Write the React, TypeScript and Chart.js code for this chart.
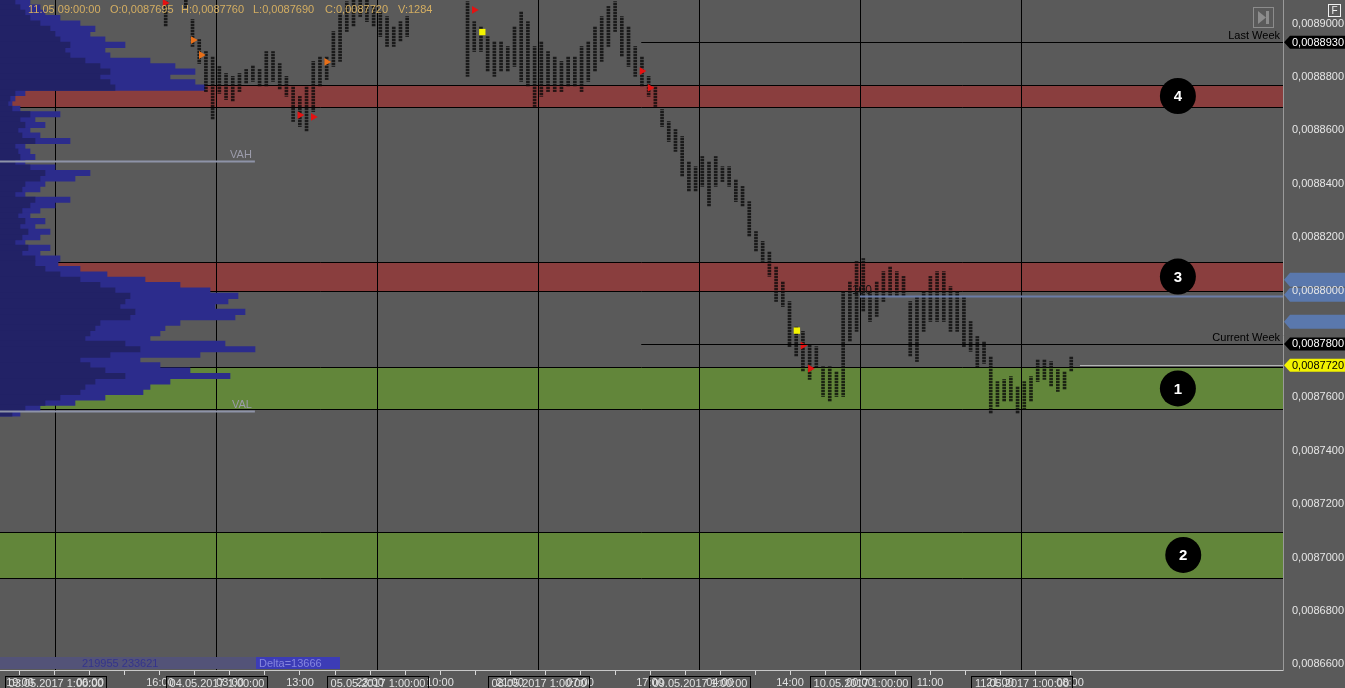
import React, { useEffect, useRef } from "react";
import { Chart, registerables } from "chart.js";

Chart.register(...registerables);

const FONT = '"Liberation Sans", Arial, sans-serif';
const BG = "#5a5a5a";

// ---- axis ranges (price in units of 1e-7, time in trading hours from 03.05 1:00) ----
const X_MIN = -8.2;
const X_MAX = 183.07;
const Y_MIN = 86579;
const Y_MAX = 89088;
const Y_TICK_VALUES = [86600, 86800, 87000, 87200, 87400, 87600, 87800, 88000, 88200, 88400, 88600, 88800, 89000];

// ---- x axis ticks ----
const X_TICK_START = -5.22;
const X_TICK_STEP = 5.218;
const X_TICK_LABELS = [
  "19:00", "", "06:00", "", "16:00", "", "03:00", "", "13:00", "", "23:00", "",
  "10:00", "", "21:00", "", "07:00", "", "17:00", "", "04:00", "", "14:00", "",
  "00:00", "", "11:00", "", "21:00", "", "08:00",
];

// ---- day separators ----
const DAY_HOURS = [0, 24, 48, 72, 96, 120, 144];
const DAY_LABELS = [
  "03.05.2017 1:00:00", "04.05.2017 1:00:00", "05.05.2017 1:00:00", "08.05.2017 1:00:00",
  "09.05.2017 1:00:00", "10.05.2017 1:00:00", "11.05.2017 1:00:00",
];

// ---- price bars (hourly high / low) ----
const BAR_START_HOUR = 16.5;
const BAR_HIGH = [
  89082, 89139, 89157, 89101, 89015, 88940, 88895, 88876, 88839, 88813,
  88802, 88813, 88828, 88843, 88828, 88895, 88895, 88850, 88802, 88764,
  88727, 88764, 88858, 88876, 88876, 88970, 89037, 89082, 89101, 89120,
  89101, 89064, 89045, 89026, 88989, 89007, 89026, 89160, 89180, 89200,
  89210, 89200, 89180, 89160, 89150, 89082, 89007, 88989, 88951, 88933,
  88933, 88914, 88989, 89045, 89007, 88914, 88933, 88895, 88876, 88858,
  88876, 88876, 88914, 88933, 88989, 89026, 89064, 89082, 89026, 88989,
  88914, 88876, 88802, 88764, 88678, 88633, 88603, 88577, 88483, 88464,
  88502, 88483, 88502, 88464, 88464, 88416, 88390, 88333, 88221, 88184,
  88146, 88090, 88034, 87959, 87865, 87847, 87798, 87790, 87715, 87715,
  87697, 87996, 88034, 88109, 88120, 87996, 88034, 88071, 88090, 88071,
  88053, 87959, 87978, 87996, 88053, 88071, 88071, 88015, 87996, 87978,
  87884, 87828, 87809, 87753, 87659, 87667, 87678, 87641, 87659, 87678,
  87742, 87742, 87734, 87704, 87697, 87753,
];
const BAR_LOW = [
  88989, 89090, 89095, 89060, 88914, 88850, 88745, 88640, 88738, 88715,
  88708, 88745, 88775, 88783, 88764, 88764, 88783, 88753, 88727, 88633,
  88614, 88596, 88670, 88764, 88790, 88839, 88858, 88970, 88989, 89026,
  89007, 88989, 88951, 88914, 88914, 88933, 88951, 89095, 89110, 89120,
  89130, 89120, 89110, 89100, 89095, 88802, 88895, 88895, 88820, 88802,
  88820, 88820, 88839, 88783, 88764, 88689, 88727, 88745, 88745, 88745,
  88764, 88764, 88745, 88783, 88820, 88858, 88914, 88970, 88876, 88839,
  88802, 88764, 88727, 88689, 88614, 88558, 88521, 88427, 88371, 88371,
  88390, 88315, 88390, 88408, 88390, 88333, 88315, 88202, 88146, 88109,
  88053, 87959, 87940, 87790, 87753, 87697, 87667, 87715, 87603, 87584,
  87603, 87603, 87809, 87847, 87921, 87884, 87903, 87959, 87978, 87978,
  87978, 87753, 87734, 87847, 87884, 87884, 87884, 87847, 87847, 87790,
  87772, 87715, 87727, 87539, 87566, 87584, 87584, 87539, 87554, 87584,
  87659, 87667, 87641, 87622, 87629, 87697,
];

// ---- signal markers ----
const MARK_HOURS = [16.4, 20.6, 21.8, 36.5, 38.5, 40.5, 62.5, 63.7, 87.5, 88.7, 110.6, 111.5, 112.6];
const MARK_PRICES = [89077, 88938, 88882, 88657, 88650, 88856, 89051, 88968, 88822, 88759, 87850, 87794, 87708];
const MARK_KINDS = ["red", "orange", "orange", "red", "red", "orange", "red", "yellow", "red", "red", "yellow", "red", "red"];

// ---- volume profile (rows of 0,0000020 from the top level) ----
const PROFILE_TOP = 89080;
const PROFILE_STEP = 20;
const PROFILE_VOLUME = [
  600, 800, 900, 1200, 1600, 1900, 1800, 2100, 2500, 2100,
  2200, 3000, 3500, 3900, 3400, 3900, 4100, 500, 300, 240,
  400, 1200, 700, 900, 600, 800, 1400, 500, 600, 700,
  500, 1100, 1800, 1500, 900, 800, 500, 1400, 1100, 800,
  600, 900, 700, 1000, 800, 500, 1000, 800, 1200, 1160,
  1600, 2140, 2900, 3600, 4200, 4760, 4560, 4300, 4900, 4700,
  3600, 3300, 3200, 3000, 4500, 5100, 4000, 2800, 3200, 3800,
  4600, 3400, 3000, 2860, 2100, 1500, 800, 400,
];
const PROFILE_VOLUME_INNER = [
  300, 400, 500, 600, 800, 1000, 1100, 1200, 1400, 1300,
  1400, 1700, 2000, 2200, 2000, 2200, 2300, 300, 200, 160,
  240, 600, 400, 500, 360, 440, 700, 300, 360, 400,
  300, 600, 900, 800, 500, 440, 300, 700, 600, 440,
  360, 500, 400, 560, 440, 300, 560, 440, 700, 700,
  900, 1200, 1600, 2000, 2300, 2600, 2500, 2400, 2700, 2600,
  2000, 1900, 1800, 1700, 2500, 2800, 2200, 1600, 1800, 2100,
  2500, 1900, 1700, 1600, 1200, 900, 500, 240,
];
const PROFILE_AXIS_MAX = 25660;

// ---- zones ----
const ZONE_NAMES = ["4", "3", "1", "2"];
const ZONE_HIGH = [88770, 88105, 87712, 87096];
const ZONE_LOW = [88687, 88000, 87555, 86924];
const ZONE_KINDS = ["resistance", "resistance", "support", "support"];
const ZONE_LABEL_HOURS = [167.4, 167.4, 167.4, 168.2];

// ---- horizontal levels ----
const LEVEL_NAMES = ["VAH", "VAL", "Last Week", "Current Week", "POC", "Last"];
const LEVEL_VALUES = [88485, 87549, 88930, 87800, 87980, 87720];
const LEVEL_FROM = [X_MIN, X_MIN, 87.4, 87.4, 120, 152.8];
const LEVEL_TO: (number | null)[] = [29.8, 29.8, null, null, null, null];
const LEVEL_KINDS = ["va", "va", "week", "week", "poc", "last"];

// ---- axis tags ----
const TAG_VALUES = [88930, 87800, 87720];
const TAG_KINDS = ["dark", "dark", "last"];
const BLUE_TAG_VALUES = [88040, 87984, 87883];

// ---- texts ----
const HEADER_ITEMS = ["11.05 09:00:00", "O:0,0087695", "H:0,0087760", "L:0,0087690", "C:0,0087720", "V:1284"];
const VOLUME_TEXT = "219955 233621";
const DELTA_TEXT = "Delta=13666";
const ROUND_TEXT = "100";
const ROUND_HOUR = 120.3;
const ROUND_VALUE = 88000;

const fmtPrice = (v: number) => (v / 1e7).toFixed(7).replace(".", ",");

const drawTag = (ctx: CanvasRenderingContext2D, tipX: number, yc: number, right: number, half: number, fill: string, text: string | null, textColor: string) => {
  ctx.beginPath();
  ctx.moveTo(tipX, yc);
  ctx.lineTo(tipX + 6, yc - half);
  ctx.lineTo(right, yc - half);
  ctx.lineTo(right, yc + half);
  ctx.lineTo(tipX + 6, yc + half);
  ctx.closePath();
  ctx.fillStyle = fill;
  ctx.fill();
  if (text) {
    ctx.fillStyle = textColor;
    ctx.font = `11px ${FONT}`;
    ctx.textAlign = "left";
    ctx.textBaseline = "middle";
    ctx.fillText(text, tipX + 8, yc + 0.5);
  }
};

const overlayPlugin = {
  id: "overlay",
  beforeDraw(chart: any) {
    const { ctx, width, height, chartArea: a } = chart;
    const y = chart.scales.y;
    ctx.save();
    ctx.fillStyle = BG;
    ctx.fillRect(0, 0, width, height);
    BLUE_TAG_VALUES.forEach((v) => {
      drawTag(ctx, a.right + 1, y.getPixelForValue(v), width, 7, "#5a78ad", null, "#fff");
    });
    ctx.restore();
  },
  beforeDatasetsDraw(chart: any) {
    const { ctx, chartArea: a } = chart;
    const x = chart.scales.x;
    const y = chart.scales.y;
    ctx.save();
    ZONE_HIGH.forEach((hi, i) => {
      const top = Math.round(y.getPixelForValue(hi));
      const bot = Math.round(y.getPixelForValue(ZONE_LOW[i]));
      ctx.fillStyle = ZONE_KINDS[i] === "resistance" ? "#8a3e3e" : "#62863a";
      ctx.fillRect(a.left, top, a.right - a.left, bot - top);
      ctx.strokeStyle = "#000";
      ctx.lineWidth = 1;
      ctx.beginPath();
      ctx.moveTo(a.left, top + 0.5);
      ctx.lineTo(a.right, top + 0.5);
      ctx.moveTo(a.left, bot + 0.5);
      ctx.lineTo(a.right, bot + 0.5);
      ctx.stroke();
    });
    DAY_HOURS.forEach((h) => {
      const px = Math.round(x.getPixelForValue(h)) + 0.5;
      ctx.strokeStyle = "#000";
      ctx.lineWidth = 1;
      ctx.beginPath();
      ctx.moveTo(px, a.top);
      ctx.lineTo(px, a.bottom);
      ctx.stroke();
    });
    ctx.restore();
  },
  afterDatasetsDraw(chart: any) {
    const { ctx, chartArea: a } = chart;
    const x = chart.scales.x;
    const y = chart.scales.y;
    ctx.save();
    const styles: Record<string, any> = {
      va: { color: "#8e93a8", width: 2, text: "#9c9cab", label: true },
      week: { color: "#000", width: 1, text: "#000", label: true },
      poc: { color: "#6a7ca6", width: 2, text: "", label: false },
      last: { color: "#b4b4b4", width: 1, text: "", label: false },
    };
    LEVEL_VALUES.forEach((v, i) => {
      const st = styles[LEVEL_KINDS[i]];
      const py = Math.round(y.getPixelForValue(v)) + 0.5;
      const x0 = Math.max(a.left, x.getPixelForValue(LEVEL_FROM[i]));
      const to = LEVEL_TO[i];
      const x1 = to == null ? a.right : x.getPixelForValue(to);
      ctx.strokeStyle = st.color;
      ctx.lineWidth = st.width;
      ctx.beginPath();
      ctx.moveTo(x0, py);
      ctx.lineTo(x1, py);
      ctx.stroke();
      if (st.label) {
        ctx.font = `11px ${FONT}`;
        ctx.fillStyle = st.text;
        ctx.textAlign = "right";
        ctx.textBaseline = "alphabetic";
        ctx.fillText(LEVEL_NAMES[i], x1 - 3, py - 4);
      }
    });
    // zone number badges
    ZONE_NAMES.forEach((name, i) => {
      const cx = x.getPixelForValue(ZONE_LABEL_HOURS[i]);
      const cy = (y.getPixelForValue(ZONE_HIGH[i]) + y.getPixelForValue(ZONE_LOW[i])) / 2;
      ctx.fillStyle = "#000";
      ctx.beginPath();
      ctx.arc(cx, cy, 18, 0, Math.PI * 2);
      ctx.fill();
      ctx.fillStyle = "#fff";
      ctx.font = `bold 15px ${FONT}`;
      ctx.textAlign = "center";
      ctx.textBaseline = "middle";
      ctx.fillText(name, cx, cy + 1);
    });
    // round number text
    ctx.fillStyle = "#141414";
    ctx.font = `12px ${FONT}`;
    ctx.textAlign = "center";
    ctx.textBaseline = "middle";
    ctx.fillText(ROUND_TEXT, x.getPixelForValue(ROUND_HOUR), y.getPixelForValue(ROUND_VALUE));
    // header
    const headerX = [28, 110, 181, 253, 325, 398];
    ctx.font = `11px ${FONT}`;
    ctx.fillStyle = "#d4ae62";
    ctx.textAlign = "left";
    ctx.textBaseline = "alphabetic";
    HEADER_ITEMS.forEach((t, i) => ctx.fillText(t, headerX[i], 13));
    // bottom-left volume / delta band
    ctx.fillStyle = "#535378";
    ctx.fillRect(0, 657, 256, 12);
    ctx.fillStyle = "#34348c";
    ctx.fillText(VOLUME_TEXT, 82, 667);
    ctx.fillStyle = "#3c3cb6";
    ctx.fillRect(256, 657, 84, 12);
    ctx.fillStyle = "#8686de";
    ctx.fillText(DELTA_TEXT, 259, 667);
    ctx.restore();
  },
  afterDraw(chart: any) {
    const { ctx, chartArea: a, width } = chart;
    const x = chart.scales.x;
    const y = chart.scales.y;
    ctx.save();
    TAG_VALUES.forEach((v, i) => {
      const isLast = TAG_KINDS[i] === "last";
      drawTag(ctx, a.right + 1, y.getPixelForValue(v), width, 6.5, isLast ? "#f2f200" : "#000", fmtPrice(v), isLast ? "#000" : "#fff");
    });
    // date boxes on the time axis
    DAY_HOURS.forEach((h, i) => {
      const cx = Math.round(x.getPixelForValue(h));
      ctx.strokeStyle = "#000";
      ctx.lineWidth = 1;
      ctx.strokeRect(cx - 49.5, a.bottom + 6.5, 101, 16);
      ctx.fillStyle = "#e2e2e2";
      ctx.font = `11px ${FONT}`;
      ctx.textAlign = "center";
      ctx.textBaseline = "middle";
      ctx.fillText(DAY_LABELS[i], cx + 1, a.bottom + 13.5);
    });
    // top-right controls
    ctx.strokeStyle = "#8c8c8c";
    ctx.lineWidth = 1;
    ctx.strokeRect(1253.5, 7.5, 20, 20);
    ctx.fillStyle = "#8c8c8c";
    ctx.beginPath();
    ctx.moveTo(1258, 11);
    ctx.lineTo(1266, 17.5);
    ctx.lineTo(1258, 24);
    ctx.closePath();
    ctx.fill();
    ctx.fillRect(1266, 11, 3, 13);
    ctx.strokeStyle = "#f0f0f0";
    ctx.strokeRect(1328.5, 4.5, 12, 12);
    ctx.fillStyle = "#f0f0f0";
    ctx.font = `10px ${FONT}`;
    ctx.textAlign = "center";
    ctx.textBaseline = "middle";
    ctx.fillText("F", 1334.5, 11);
    ctx.restore();
  },
};

const makeDotPattern = (): CanvasPattern | string => {
  const c = document.createElement("canvas");
  c.width = 3;
  c.height = 3;
  const g = c.getContext("2d");
  if (!g) return "rgba(10,10,10,0.68)";
  g.fillStyle = "rgba(8,8,8,0.78)";
  g.fillRect(0, 0, 3, 2);
  g.fillStyle = "rgba(8,8,8,0.25)";
  g.fillRect(0, 2, 3, 1);
  return g.createPattern(c, "repeat") || "rgba(10,10,10,0.68)";
};

export default function App() {
  const ref = useRef<HTMLCanvasElement>(null);
  useEffect(() => {
    document.body.style.margin = "0";
    Chart.defaults.font.family = FONT;
    const priceData = BAR_HIGH.map((hi, i) => ({ x: BAR_START_HOUR + i, y: [BAR_LOW[i], hi] }));
    const profileOuter = PROFILE_VOLUME.map((v, i) => ({ x: v, y: PROFILE_TOP - i * PROFILE_STEP }));
    const profileInner = PROFILE_VOLUME_INNER.map((v, i) => ({ x: v, y: PROFILE_TOP - i * PROFILE_STEP }));
    const markColors: Record<string, string> = { red: "#e41212", orange: "#e8701a", yellow: "#f4f400" };
    const markData = MARK_HOURS.map((h, i) => ({ x: h, y: MARK_PRICES[i] }));

    const chart = new Chart(ref.current as HTMLCanvasElement, {
      type: "bar",
      data: {
        datasets: [
          {
            type: "scatter",
            label: "Signals",
            data: markData,
            xAxisID: "x",
            yAxisID: "y",
            pointStyle: MARK_KINDS.map((k) => (k === "yellow" ? "rect" : "triangle")),
            pointRotation: 90,
            pointRadius: 4.5,
            pointBackgroundColor: MARK_KINDS.map((k) => markColors[k]),
            pointBorderWidth: 0,
            order: 1,
          } as any,
          {
            type: "bar",
            label: "Price",
            data: priceData as any,
            xAxisID: "x",
            yAxisID: "y",
            backgroundColor: makeDotPattern(),
            barThickness: 3,
            grouped: false,
            borderWidth: 0,
            order: 3,
          } as any,
          {
            type: "bar",
            label: "Profile inner",
            indexAxis: "y",
            data: profileInner as any,
            xAxisID: "xv",
            yAxisID: "y",
            backgroundColor: "#222266",
            barThickness: 5.5,
            grouped: false,
            borderWidth: 0,
            order: 4,
          } as any,
          {
            type: "bar",
            label: "Profile",
            indexAxis: "y",
            data: profileOuter as any,
            xAxisID: "xv",
            yAxisID: "y",
            backgroundColor: "#2c2c8c",
            barThickness: 5.5,
            grouped: false,
            borderWidth: 0,
            order: 5,
          } as any,
        ],
      },
      options: {
        responsive: true,
        maintainAspectRatio: false,
        animation: false,
        events: [],
        layout: { padding: 0, autoPadding: false },
        plugins: { legend: { display: false }, tooltip: { enabled: false }, title: { display: false } },
        scales: {
          x: {
            type: "linear",
            position: "bottom",
            min: X_MIN,
            max: X_MAX,
            bounds: "data",
            offset: false,
            grid: { display: true, drawOnChartArea: false, drawTicks: true, tickLength: 5, color: "#d8d8d8", offset: false },
            border: { display: true, color: "#c8c8c8", width: 1 },
            ticks: {
              autoSkip: false,
              maxRotation: 0,
              minRotation: 0,
              padding: 1,
              color: "#e2e2e2",
              font: { size: 11, family: FONT },
              callback: (_v: any, i: number) => X_TICK_LABELS[i] ?? "",
            },
            afterBuildTicks: (s: any) => {
              s.ticks = X_TICK_LABELS.map((_, k) => ({ value: X_TICK_START + k * X_TICK_STEP }));
            },
            afterFit: (s: any) => {
              s.height = 18;
              s.paddingLeft = 0;
              s.paddingRight = 0;
              s.paddingTop = 0;
              s.paddingBottom = 0;
            },
          } as any,
          xv: {
            type: "linear",
            display: false,
            min: 0,
            max: PROFILE_AXIS_MAX,
            bounds: "data",
            offset: false,
            grid: { offset: false },
          } as any,
          y: {
            type: "linear",
            position: "right",
            min: Y_MIN,
            max: Y_MAX,
            bounds: "data",
            beginAtZero: false,
            offset: false,
            grid: { display: true, drawOnChartArea: false, drawTicks: false, offset: false },
            border: { display: true, color: "#9a9a9a", width: 1 },
            ticks: {
              padding: 9,
              color: "#e6e6e6",
              font: { size: 11, family: FONT },
              callback: (v: any) => fmtPrice(Number(v)),
            },
            afterBuildTicks: (s: any) => {
              s.ticks = Y_TICK_VALUES.map((v) => ({ value: v }));
            },
            afterFit: (s: any) => {
              s.width = 62;
              s.paddingLeft = 0;
              s.paddingRight = 0;
              s.paddingTop = 0;
              s.paddingBottom = 0;
            },
          } as any,
        },
      },
      plugins: [overlayPlugin],
    });
    return () => chart.destroy();
  }, []);
  return (
    <div style={{ position: "fixed", left: 0, top: 0, width: 1345, height: 688, background: BG }}>
      <canvas ref={ref} />
    </div>
  );
}
